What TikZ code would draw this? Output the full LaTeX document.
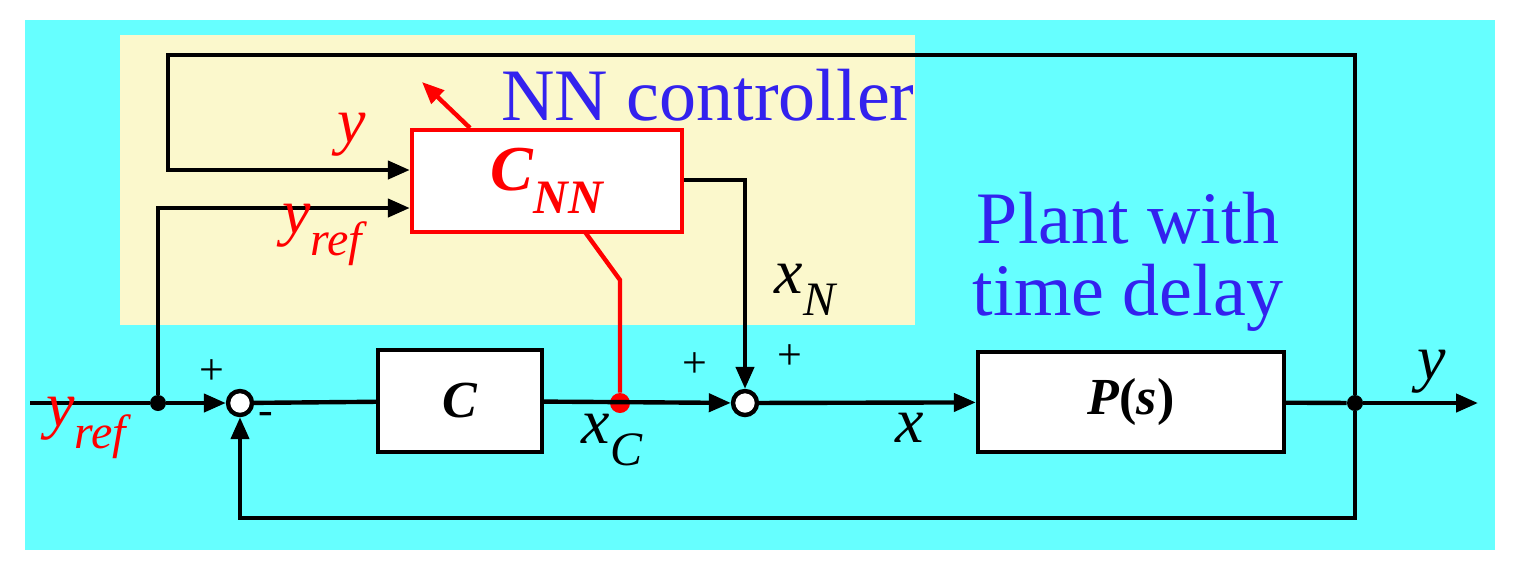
\documentclass[tikz,border=0pt]{standalone}
\usepackage{fontspec}
\setmainfont{Liberation Serif}
\usetikzlibrary{arrows.meta}
\definecolor{cy}{HTML}{66FFFF}
\definecolor{ye}{HTML}{FBF8CC}
\definecolor{bl}{HTML}{3322EE}
\newcommand{\subtx}[1]{\raisebox{-0.35em}{\scalebox{0.75}{#1}}}
\begin{document}
\begin{tikzpicture}[x=0.5pt,y=-0.5pt,
  ln/.style={line width=2.2pt,black},
  ar/.style={ln,-{Triangle[length=11pt,width=9pt]}},
  blk/.style={draw,line width=2.2pt,fill=white,inner sep=0},
  sm/.style={circle,draw,line width=2.2pt,fill=white,minimum size=12pt,inner sep=0},
  dt/.style={circle,fill=black,minimum size=8pt,inner sep=0},
  lb/.style={font=\fontsize{32}{34}\selectfont\itshape},
  pm/.style={font=\fontsize{22}{24}\selectfont}]
\useasboundingbox (0,0) rectangle (1516,570);
\fill[cy] (25,20) rectangle (1495,550);
\fill[ye] (120,35) rectangle (915,325);
\node[blk,minimum width=82pt,minimum height=51pt] (C) at (460,401) {\fontsize{26}{28}\selectfont\bfseries\itshape C};
\node[blk,minimum width=153pt,minimum height=50pt] (P) at (1131,402) {\fontsize{26}{28}\selectfont\bfseries\itshape P\textup{(}s\textup{)}};
\node[blk,draw=red,minimum width=135pt,minimum height=51pt] (N) at (547,181) {\color{red}\fontsize{32}{34}\selectfont\bfseries\itshape C\subtx{NN}};
\node[sm] (s1) at (240,403) {};
\node[sm] (s2) at (745,403) {};
\node[dt] (d1) at (158,403) {};
\node[dt] (d2) at (1355,403) {};
\node[circle,fill=red,minimum size=10pt,inner sep=0] (dr) at (620,403) {};
\coordinate (in) at (30,403);
\coordinate (out) at (1478,403);
\draw[ln] (in) -- (d1);
\draw[ar] (d1) -- (s1);
\draw[ln] (s1) -- (C);
\draw[ar] (C) -- (s2);
\draw[ar] (s2) -- (P);
\draw[ln] (P) -- (d2);
\draw[ar] (d2) -- (out);
\draw[ar] (d2) |- (s1.south |- 0,518) -- (s1.south);
\draw[ar] (d2) |- (168,55) |- (N.west |- 0,170);
\draw[ar] (d1) |- (N.west |- 0,208);
\draw[ar] (N.east |- 0,180) -| (s2.north);
\draw[red,line width=2.2pt] (dr) -- (620,280) -- (585,232);
\draw[red,line width=2.2pt,-{Triangle[length=11pt,width=9pt]}] (470,128) -- (422,82);
\node[pm] (p1) at (212,372) {+};
\node[pm] (m1) at (266,418) {-};
\node[pm] (p2) at (695,365) {+};
\node[pm] (p3) at (790,357) {+};
\node[text=bl,font=\fontsize{37}{40}\selectfont] (t1) at (708,95) {NN controller};
\node[text=bl,font=\fontsize{37}{40}\selectfont,align=center] (t2) at (1128,262) {Plant with\\[-4pt]time delay};
\node[lb] (xN) at (805,290) {x\subtx{N}};
\node[lb] (xC) at (612,440) {x\subtx{C}};
\node[lb] (x) at (910,428) {x};
\node[lb] (y) at (1432,372) {y};
\node[lb,text=red] (yy) at (352,135) {y};
\node[lb,text=red] (yr1) at (322,235) {y\subtx{ref}};
\node[lb,text=red] (yr2) at (86,428) {y\subtx{ref}};
\end{tikzpicture}
\end{document}
